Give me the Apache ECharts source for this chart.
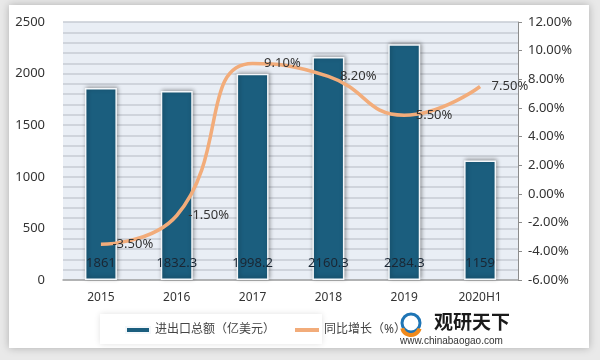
<!DOCTYPE html>
<html><head><meta charset="utf-8">
<script src="https://cdn.jsdelivr.net/npm/echarts@6/dist/echarts.min.js"></script>
<style>html,body{margin:0;padding:0;background:#e9e9e9;}#c{width:600px;height:360px;}</style>
</head><body><div id="c"></div>
<script>
const categories = ['2015','2016','2017','2018','2019','2020H1'];
const tradeTotal = [1861, 1832.3, 1998.2, 2160.3, 2284.3, 1159];
const yoyGrowth = [-3.5, -1.5, 9.1, 8.2, 5.5, 7.5];
const seriesNames = ['进出口总额（亿美元）', '同比增长（%）'];

const chart = echarts.init(document.getElementById('c'));
const font = "'Noto Sans', 'Noto Sans CJK SC', sans-serif";
chart.setOption({
  backgroundColor: '#e9e9e9',
  textStyle: {fontFamily: font},
  graphic: [
    {type:'rect', z:-10, shape:{x:9,y:5,width:580,height:343}, style:{fill:'#fff', shadowBlur:8, shadowColor:'rgba(0,0,0,0.25)'}},
    {type:'rect', z:-5, shape:{x:100,y:314,width:222,height:30}, style:{fill:'#fff', shadowBlur:6, shadowColor:'rgba(0,0,0,0.12)'}},
    {type:'circle', shape:{cx:411,cy:323,r:9}, style:{fill:'none', stroke:'#1f75b5', lineWidth:3}},
    {type:'arc', shape:{cx:411,cy:326,r:9,startAngle:0.3,endAngle:2.9}, style:{fill:'none', stroke:'#f08a1c', lineWidth:4}},
    {type:'text', left:434, top:312, style:{text:'观研天下', font:"bold 19px 'Noto Sans CJK SC'", fill:'#1a1a1a'}},
    {type:'text', left:400, top:336, style:{text:'www.chinabaogao.com', font:"10px 'Liberation Sans'", fill:'#333'}}
  ],
  grid: {left:63, right:82, top:22, bottom:80, show:true, backgroundColor:'#e9eef5', borderWidth:0},
  legend: {
    left: 120, top: 319, itemGap: 20,
    textStyle: {fontSize: 12, color: '#444', fontFamily: font},
    data: [
      {name: seriesNames[0], icon: 'rect', itemStyle:{color:'#1b5e7e', opacity:1}},
      {name: seriesNames[1], icon: 'path://M0,0L24,0L24,4L0,4Z', itemStyle:{color:'#f2ac7a', opacity:1}}
    ],
    itemWidth: 24, itemHeight: 6
  },
  xAxis: {
    type: 'category', data: categories,
    axisLine: {lineStyle: {color: '#a6a6a6', width: 1.5}},
    axisTick: {show: false},
    axisLabel: {color: '#333', fontSize: 12, margin: 12}
  },
  yAxis: [
    {type:'value', min:0, max:2500, interval:500,
      axisLine:{show:false}, axisTick:{show:false},
      axisLabel:{color:'#333', fontSize:13, margin:18, formatter: v => String(v)},
      splitLine:{lineStyle:{color:'#c6cbd3', width:1.5}},
      minorTick:{show:false, splitNumber:5},
      minorSplitLine:{show:true, lineStyle:{color:'#c6cbd3', width:1.5}}
    },
    {type:'value', min:-6, max:12, interval:2,
      axisLine:{show:true, lineStyle:{color:'#8c8c8c'}},
      axisTick:{show:true, inside:false, length:4, lineStyle:{color:'#8c8c8c'}},
      axisLabel:{color:'#333', fontSize:13, margin:10, formatter: v => v.toFixed(2) + '%'},
      splitLine:{show:false}
    }
  ],
  series: [
    {name: seriesNames[0], type:'bar', data: tradeTotal, barWidth: 32,
      itemStyle:{color:'#1b5e7e', borderColor:'#f4f7fa', borderWidth:1.5, shadowBlur:4, shadowColor:'rgba(0,0,0,0.35)', shadowOffsetX:1, shadowOffsetY:-1},
      label:{show:true, position:'insideBottom', distance:10, color:'#1a2633', fontSize:13}
    },
    {name: seriesNames[1], type:'line', yAxisIndex:1, data: yoyGrowth, smooth:0.5,
      symbol:'circle', symbolSize:1, showSymbol:true, z:5,
      lineStyle:{color:'#f2ac7a', width:3.5}, itemStyle:{color:'#f2ac7a', opacity:0},
      label:{show:true, position:'right', distance:11, color:'#333', fontSize:13, opacity:1, formatter: p => p.value.toFixed(2) + '%'}
    }
  ]
});
</script></body></html>
